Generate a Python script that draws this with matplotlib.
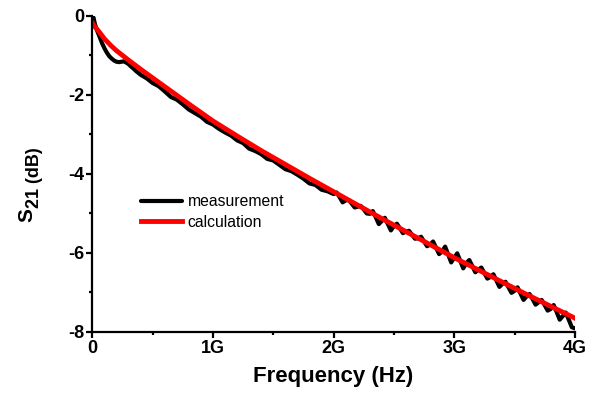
import matplotlib
matplotlib.use("Agg")
import matplotlib.pyplot as plt
from matplotlib.ticker import MultipleLocator

plt.rcParams['font.family'] = ['Liberation Sans', 'DejaVu Sans']
plt.rcParams['axes.unicode_minus'] = False

# frequency in GHz, S21 in dB
calc_freq = [0, 0.02, 0.05, 0.1, 0.15, 0.2, 0.3, 0.4, 0.5, 0.6, 0.8, 1.0, 1.2, 1.4,
             1.6, 1.8, 2.0, 2.2, 2.4, 2.6, 2.8, 3.0, 3.2, 3.4, 3.6, 3.8, 4.0]
calc_s21 = [-0.18, -0.27, -0.38, -0.58, -0.74, -0.88, -1.12, -1.35, -1.57, -1.79, -2.23,
            -2.66, -3.04, -3.41, -3.76, -4.11, -4.45, -4.79, -5.13, -5.46, -5.79, -6.12,
            -6.43, -6.74, -7.05, -7.35, -7.65]

meas_freq_lo = [0.0, 0.01, 0.02, 0.04, 0.06, 0.08, 0.10, 0.12, 0.14, 0.16, 0.18, 0.20, 0.22,
                0.24, 0.26, 0.28, 0.30, 0.32, 0.34, 0.36, 0.38,
                0.40, 0.45, 0.50, 0.55, 0.60, 0.65, 0.70, 0.75, 0.80, 0.85, 0.90, 0.95,
                1.00, 1.05, 1.10, 1.15, 1.20, 1.25, 1.30, 1.35, 1.40, 1.45, 1.50, 1.55,
                1.60, 1.65, 1.70, 1.75, 1.80, 1.85, 1.90, 1.95]
meas_s21_lo = [-0.01, -0.05, -0.20, -0.38, -0.53, -0.69, -0.82, -0.93, -1.02, -1.08, -1.13,
               -1.16, -1.17, -1.16, -1.15, -1.18, -1.22, -1.28, -1.33, -1.39, -1.44,
               -1.49, -1.58, -1.70, -1.78, -1.91, -2.05, -2.12, -2.24, -2.37, -2.46, -2.55,
               -2.68, -2.75, -2.86, -2.95, -3.03, -3.15, -3.22, -3.36, -3.42, -3.50, -3.62,
               -3.66, -3.77, -3.88, -3.93, -4.02, -4.12, -4.24, -4.28, -4.40, -4.44]

meas_freq_hi = [2.000, 2.025, 2.050, 2.075, 2.100, 2.125, 2.150, 2.175, 2.200, 2.225,
                2.250, 2.275, 2.300, 2.325, 2.350, 2.375, 2.400, 2.425, 2.450, 2.475,
                2.500, 2.525, 2.550, 2.575, 2.600, 2.625, 2.650, 2.675, 2.700, 2.725,
                2.750, 2.775, 2.800, 2.825, 2.850, 2.875, 2.900, 2.925, 2.950, 2.975,
                3.000, 3.025, 3.050, 3.075, 3.100, 3.125, 3.150, 3.175, 3.200, 3.225,
                3.250, 3.275, 3.300, 3.325, 3.350, 3.375, 3.400, 3.425, 3.450, 3.475,
                3.500, 3.525, 3.550, 3.575, 3.600, 3.625, 3.650, 3.675, 3.700, 3.725,
                3.750, 3.775, 3.800, 3.825, 3.850, 3.875, 3.900, 3.925, 3.950, 3.975, 4.000]
meas_s21_hi = [-4.51, -4.47, -4.59, -4.72, -4.67, -4.66, -4.75, -4.85, -4.83, -4.81,
               -4.90, -5.00, -5.01, -4.94, -5.10, -5.27, -5.19, -5.11, -5.27, -5.43,
               -5.32, -5.26, -5.38, -5.50, -5.46, -5.44, -5.54, -5.64, -5.63, -5.59,
               -5.71, -5.83, -5.79, -5.71, -5.87, -6.03, -5.96, -5.84, -6.04, -6.24,
               -6.12, -6.01, -6.20, -6.39, -6.26, -6.18, -6.33, -6.49, -6.42, -6.37,
               -6.51, -6.65, -6.61, -6.54, -6.70, -6.86, -6.78, -6.73, -6.87, -7.01,
               -6.96, -6.87, -7.03, -7.19, -7.10, -7.04, -7.17, -7.31, -7.25, -7.19,
               -7.32, -7.46, -7.42, -7.32, -7.50, -7.69, -7.60, -7.51, -7.69, -7.88, -7.91]

meas_freq = meas_freq_lo + meas_freq_hi
meas_s21 = meas_s21_lo + meas_s21_hi

xticks = [0, 1, 2, 3, 4]
xtick_labels = ['0', '1G', '2G', '3G', '4G']
yticks = [0, -2, -4, -6, -8]

W, H = 600, 398
fig = plt.figure(figsize=(W / 100, H / 100), dpi=100)
ax = fig.add_axes([0.154, 0.166, 0.804, 0.794])

ax.plot(meas_freq, meas_s21, color='black', lw=3.0, label='measurement',
        solid_joinstyle='round', solid_capstyle='round')
ax.plot(calc_freq, calc_s21, color='#ff0000', lw=3.5, label='calculation')

ax.set_xlim(0, 4)
ax.set_ylim(-8, 0)
ax.set_xticks(xticks)
ax.set_xticklabels(xtick_labels)
ax.set_yticks(yticks)
ax.xaxis.set_minor_locator(MultipleLocator(0.5))
ax.yaxis.set_minor_locator(MultipleLocator(1))

for s in ['top', 'right']:
    ax.spines[s].set_visible(False)
for s in ['left', 'bottom']:
    ax.spines[s].set_linewidth(1.6)

ax.tick_params(which='major', direction='out', length=4, width=1.6, labelsize=13, pad=1.5)
ax.tick_params(which='minor', direction='out', length=2.5, width=1.6)
for lab in ax.get_xticklabels() + ax.get_yticklabels():
    lab.set_fontweight('bold')

ax.set_xlabel('Frequency (Hz)', fontsize=16, fontweight='bold', labelpad=7)

# y label: big S, then subscript 21 and (dB) on a lowered baseline
fig.text(32 / W, 1 - 222 / H, 'S', rotation=90, rotation_mode='anchor',
         ha='left', va='baseline', fontsize=15, fontweight='bold')
fig.text(39.5 / W, 1 - 208 / H, '21 (dB)', rotation=90, rotation_mode='anchor',
         ha='left', va='baseline', fontsize=13, fontweight='bold')

ax.legend(loc='center left', bbox_to_anchor=(0.100, 0.380), frameon=False, fontsize=11.3,
          handlelength=2.65, handletextpad=0.35, borderpad=0, borderaxespad=0,
          labelspacing=0.35)

fig.savefig('out.png', dpi=100)
